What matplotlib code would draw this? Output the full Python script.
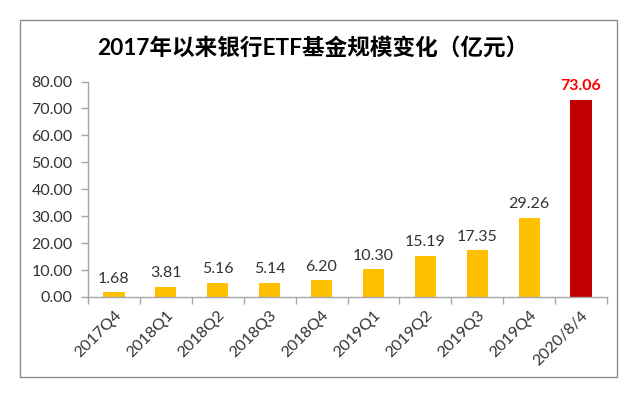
import matplotlib
matplotlib.use("Agg")
import matplotlib.pyplot as plt
from matplotlib.patches import Rectangle

categories = ["2017Q4", "2018Q1", "2018Q2", "2018Q3", "2018Q4",
              "2019Q1", "2019Q2", "2019Q3", "2019Q4", "2020/8/4"]
values = [1.68, 3.81, 5.16, 5.14, 6.20, 10.30, 15.19, 17.35, 29.26, 73.06]
yticks = [0, 10, 20, 30, 40, 50, 60, 70, 80]
title = "2017年以来银行ETF基金规模变化（亿元）"

FONT = ["Lato", "Noto Sans CJK SC", "DejaVu Sans"]
plt.rcParams["font.family"] = FONT

fig = plt.figure(figsize=(6.4, 3.93), dpi=100)
fig.patch.set_facecolor("white")
# outer frame
fig.patches.append(Rectangle((19.5/640, 1-377/393), (617-19.5)/640, (377-19.5)/393,
                             transform=fig.transFigure, fill=False,
                             edgecolor="#8C8C8C", linewidth=1.0))

ax = fig.add_axes([88/640, 1-297/393, (607-88)/640, (297-81.5)/393])
colors = ["#FFC000"] * (len(values) - 1) + ["#C00000"]
x = list(range(len(categories)))
bars = ax.bar(x, values, width=0.41, color=colors, zorder=2)

ax.set_xlim(-0.5, len(categories) - 0.5)
ax.set_ylim(0, 80)
ax.set_yticks(yticks)
ax.set_yticklabels([f"{v:.2f}" for v in yticks], fontsize=11.5, color="#333333")

ax.set_xticks(x)
ax.set_xticklabels(categories, rotation=45, ha="right", rotation_mode="anchor",
                   fontsize=11.5, color="#333333")
ax.tick_params(axis="x", which="major", length=0, pad=8)
ax.set_xticks([i - 0.5 for i in range(len(categories) + 1)], minor=True)
ax.tick_params(axis="x", which="minor", length=5, color="#A6A6A6", width=1)
ax.tick_params(axis="y", length=5, color="#A6A6A6", width=1, pad=6)

for s in ["top", "right"]:
    ax.spines[s].set_visible(False)
for s in ["left", "bottom"]:
    ax.spines[s].set_color("#A6A6A6")
    ax.spines[s].set_linewidth(1)

for i, v in enumerate(values):
    if i == len(values) - 1:
        ax.text(i, v + 2.5, f"{v:.2f}", ha="center", va="bottom", fontsize=11.5,
                color="#FF0000", fontweight="bold")
    else:
        ax.text(i, v + 2.5, f"{v:.2f}", ha="center", va="bottom", fontsize=11.5,
                color="#333333")

fig.text(313/640, 1-48/393, title, ha="center", va="center", fontsize=16.3,
         fontweight="bold", color="black")

fig.savefig("out.png", dpi=100)
